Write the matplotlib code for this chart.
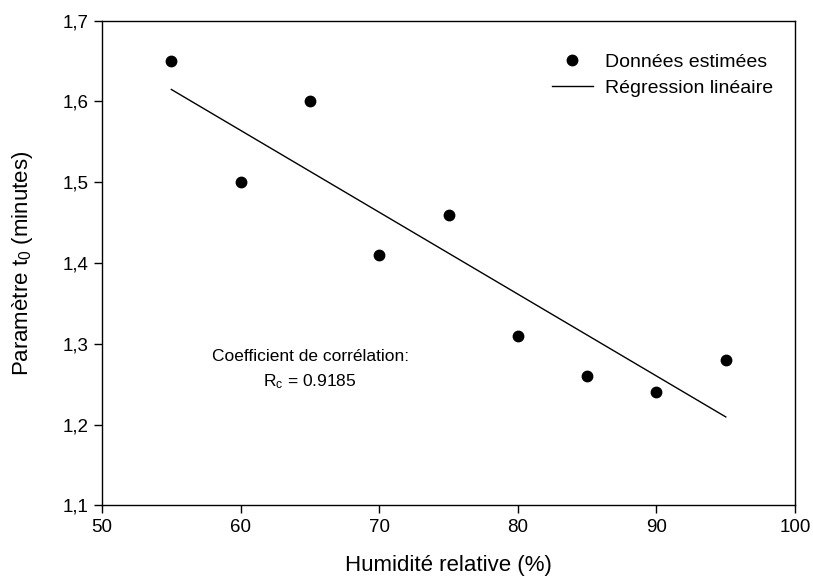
import numpy as np
import matplotlib
matplotlib.use("Agg")
import matplotlib.pyplot as plt

plt.rcParams['font.family'] = ['Liberation Sans', 'DejaVu Sans']
plt.rcParams['mathtext.fontset'] = 'custom'
plt.rcParams['mathtext.rm'] = 'Liberation Sans'
plt.rcParams['mathtext.it'] = 'Liberation Sans'

humidity = [55, 60, 65, 70, 75, 80, 85, 90, 95]
t0 = [1.65, 1.50, 1.60, 1.41, 1.46, 1.31, 1.26, 1.24, 1.28]
x_ticks = [50, 60, 70, 80, 90, 100]
y_ticks = [1.1, 1.2, 1.3, 1.4, 1.5, 1.6, 1.7]
y_tick_labels = ['1,1', '1,2', '1,3', '1,4', '1,5', '1,6', '1,7']

fig = plt.figure(figsize=(8.13, 5.83), dpi=100)
ax = fig.add_axes([0.1255, 0.133, 0.8525, 0.8315])

ax.plot(humidity, t0, 'o', color='black', ms=7.5, label='Données estimées')
slope, intercept = np.polyfit(humidity, t0, 1)
xr = np.array([min(humidity), max(humidity)])
ax.plot(xr, slope * xr + intercept, '-', color='black', lw=1.0, label='Régression linéaire')

ax.set_xlim(50, 100)
ax.set_ylim(1.1, 1.7)
ax.set_xticks(x_ticks)
ax.set_xticklabels([str(v) for v in x_ticks])
ax.set_yticks(y_ticks)
ax.set_yticklabels(y_tick_labels)
ax.tick_params(direction='out', length=6, width=1, labelsize=13.5, pad=4)
for s in ax.spines.values():
    s.set_linewidth(1.0)

ax.set_xlabel('Humidité relative (%)', fontsize=16, va='center')
ax.xaxis.set_label_coords(0.5, -0.123)
ax.set_ylabel('Paramètre t$_\\mathregular{0}$ (minutes)', fontsize=16, va='center')
ax.yaxis.set_label_coords(-0.115, 0.5)

ax.text(65.05, 1.2846, 'Coefficient de corrélation:', ha='center', va='center', fontsize=12.5)
ax.text(65.0, 1.2537, 'R$_\\mathregular{c}$ = 0.9185', ha='center', va='center', fontsize=12.5)

ax.legend(loc='upper left', bbox_to_anchor=(552 / 813, 1 - 53 / 583),
          bbox_transform=fig.transFigure, frameon=False, fontsize=14,
          handlelength=2.1, handletextpad=0.62, borderaxespad=0, borderpad=0,
          labelspacing=0.45)

fig.savefig('out.png', dpi=100)
